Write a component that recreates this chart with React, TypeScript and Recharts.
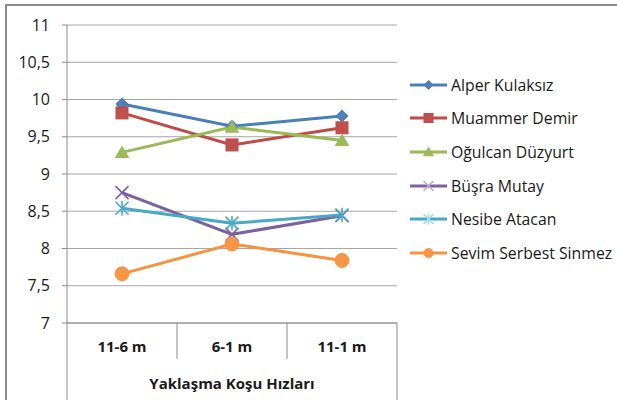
import React from 'react';
import { LineChart, Line, XAxis, YAxis, CartesianGrid, Legend } from 'recharts';

const categories = ['11-6 m', '6-1 m', '11-1 m'];
const alper = [9.94, 9.64, 9.78];
const muammer = [9.82, 9.39, 9.62];
const ogulcan = [9.29, 9.63, 9.45];
const busra = [8.75, 8.19, 8.44];
const nesibe = [8.54, 8.34, 8.45];
const sevim = [7.66, 8.06, 7.84];
const yTicks = [7, 7.5, 8, 8.5, 9, 9.5, 10, 10.5, 11];

const FONT = "'Open Sans', sans-serif";
const AXIS_GRAY = '#8c8c8c';
const TEXT = '#1a1a1a';

type Shape = 'diamond' | 'square' | 'triangle' | 'x' | 'star' | 'circle';

const series: { key: string; name: string; line: string; fill: string; shape: Shape; values: number[] }[] = [
  { key: 'alper', name: 'Alper Kulaksız', line: '#4A7EBB', fill: '#4F81BD', shape: 'diamond', values: alper },
  { key: 'muammer', name: 'Muammer Demir', line: '#BE4B48', fill: '#C0504D', shape: 'square', values: muammer },
  { key: 'ogulcan', name: 'Oğulcan Düzyurt', line: '#98B954', fill: '#9BBB59', shape: 'triangle', values: ogulcan },
  { key: 'busra', name: 'Büşra Mutay', line: '#7D60A0', fill: '#7D60A0', shape: 'x', values: busra },
  { key: 'nesibe', name: 'Nesibe Atacan', line: '#46AAC5', fill: '#46AAC5', shape: 'star', values: nesibe },
  { key: 'sevim', name: 'Sevim Serbest Sinmez', line: '#F69240', fill: '#F79646', shape: 'circle', values: sevim },
];

const data = categories.map((cat, i) => {
  const row: Record<string, string | number> = { cat };
  series.forEach(s => {
    row[s.key] = s.values[i];
  });
  return row;
});

// layout
const W = 617;
const H = 400;
const PLOT_LEFT = 67;
const PLOT_RIGHT = 397;
const PLOT_TOP = 25;
const PLOT_BOTTOM = 323;
const HALF_BAND = (PLOT_RIGHT - PLOT_LEFT) / categories.length / 2;

function Marker({ shape, cx, cy, s, color, fill }: { shape: Shape; cx: number; cy: number; s: number; color: string; fill: string }) {
  switch (shape) {
    case 'diamond':
      return <polygon points={`${cx},${cy - s} ${cx + s},${cy} ${cx},${cy + s} ${cx - s},${cy}`} fill={fill} stroke={color} strokeWidth={1} />;
    case 'square':
      return <rect x={cx - s} y={cy - s} width={s * 2} height={s * 2} fill={fill} stroke={color} strokeWidth={1} />;
    case 'triangle':
      return <polygon points={`${cx},${cy - s} ${cx + s * 1.1},${cy + s * 0.85} ${cx - s * 1.1},${cy + s * 0.85}`} fill={fill} stroke={color} strokeWidth={1} />;
    case 'x':
      return (
        <g stroke={color} strokeWidth={1.6}>
          <line x1={cx - s} y1={cy - s} x2={cx + s} y2={cy + s} />
          <line x1={cx - s} y1={cy + s} x2={cx + s} y2={cy - s} />
        </g>
      );
    case 'star':
      return (
        <g stroke={color} strokeWidth={1.6}>
          <line x1={cx - s} y1={cy - s} x2={cx + s} y2={cy + s} />
          <line x1={cx - s} y1={cy + s} x2={cx + s} y2={cy - s} />
          <line x1={cx} y1={cy - s * 1.1} x2={cx} y2={cy + s * 1.1} />
        </g>
      );
    default:
      return <circle cx={cx} cy={cy} r={s} fill={fill} stroke={color} strokeWidth={1} />;
  }
}

function XTick(props: any) {
  const { x, y, payload, index } = props;
  const last = index === categories.length - 1;
  return (
    <g>
      <text x={x} y={y + 29} textAnchor="middle" fontFamily={FONT} fontSize={15} fontWeight="bold" fill={TEXT}>
        {payload.value}
      </text>
      <line x1={x + HALF_BAND} y1={y} x2={x + HALF_BAND} y2={last ? H : y + 36} stroke={AXIS_GRAY} />
      {index === 0 && <line x1={x - HALF_BAND} y1={y} x2={x - HALF_BAND} y2={H} stroke={AXIS_GRAY} />}
    </g>
  );
}

function ChartLegend() {
  return (
    <div style={{ fontFamily: FONT, fontSize: 15.8, color: TEXT }}>
      {series.map(s => (
        <div key={s.key} style={{ display: 'flex', alignItems: 'center', height: 33.6, whiteSpace: 'nowrap' }}>
          <svg width={41} height={16} style={{ flex: 'none' }}>
            <line x1={0} y1={8} x2={37} y2={8} stroke={s.line} strokeWidth={3} />
            <Marker
              shape={s.shape}
              cx={18.5}
              cy={8}
              s={s.shape === 'x' || s.shape === 'star' ? 5 : 4.5}
              color={s.shape === 'x' ? '#b9acd1' : s.shape === 'star' ? '#a9d8e6' : s.line}
              fill={s.fill}
            />
          </svg>
          <span>{s.name}</span>
        </div>
      ))}
    </div>
  );
}

export default function App() {
  return (
    <div style={{ position: 'absolute', left: 0, top: 0, width: W, height: H, overflow: 'hidden', background: '#fff' }}>
      <div
        style={{
          position: 'absolute',
          left: 5,
          top: 4,
          width: 800,
          height: 600,
          border: '2px solid #8c8c8c',
          boxSizing: 'border-box',
        }}
      />
      <div style={{ position: 'absolute', left: 0, top: 0 }}>
        <LineChart
          width={W}
          height={H}
          data={data}
          margin={{ top: PLOT_TOP, right: W - PLOT_RIGHT, bottom: 0, left: PLOT_LEFT - 60 }}
        >
          <CartesianGrid vertical={false} stroke="#a6a6a6" />
          <XAxis
            dataKey="cat"
            scale="band"
            height={H - PLOT_BOTTOM}
            interval={0}
            tickLine={false}
            tickSize={0}
            tickMargin={0}
            axisLine={{ stroke: AXIS_GRAY }}
            tick={<XTick />}
            label={{
              value: 'Yaklaşma Koşu Hızları',
              position: 'insideBottom',
              offset: 11,
              fill: TEXT,
              fontFamily: FONT,
              fontSize: 15,
              fontWeight: 'bold',
            }}
          />
          <YAxis
            width={60}
            domain={[7, 11]}
            ticks={yTicks}
            interval={0}
            tickSize={5}
            tickMargin={12}
            axisLine={{ stroke: AXIS_GRAY }}
            tickLine={{ stroke: AXIS_GRAY }}
            tick={{ fill: TEXT, fontFamily: FONT, fontSize: 16 }}
            tickFormatter={(v: number) => String(v).replace('.', ',')}
          />
          <Legend
            layout="vertical"
            align="center"
            verticalAlign="middle"
            wrapperStyle={{ left: 410, top: 68, width: 210 }}
            content={() => <ChartLegend />}
          />
          {series.map(s => (
            <Line
              key={s.key}
              dataKey={s.key}
              name={s.name}
              stroke={s.line}
              strokeWidth={3}
              isAnimationActive={false}
              dot={(p: any) => (
                <Marker
                  key={`${s.key}-${p.index}`}
                  shape={s.shape}
                  cx={p.cx}
                  cy={p.cy}
                  s={s.shape === 'circle' ? 7 : s.shape === 'x' || s.shape === 'star' ? 6.5 : 6}
                  color={s.line}
                  fill={s.fill}
                />
              )}
              activeDot={false}
            />
          ))}
        </LineChart>
      </div>
    </div>
  );
}
